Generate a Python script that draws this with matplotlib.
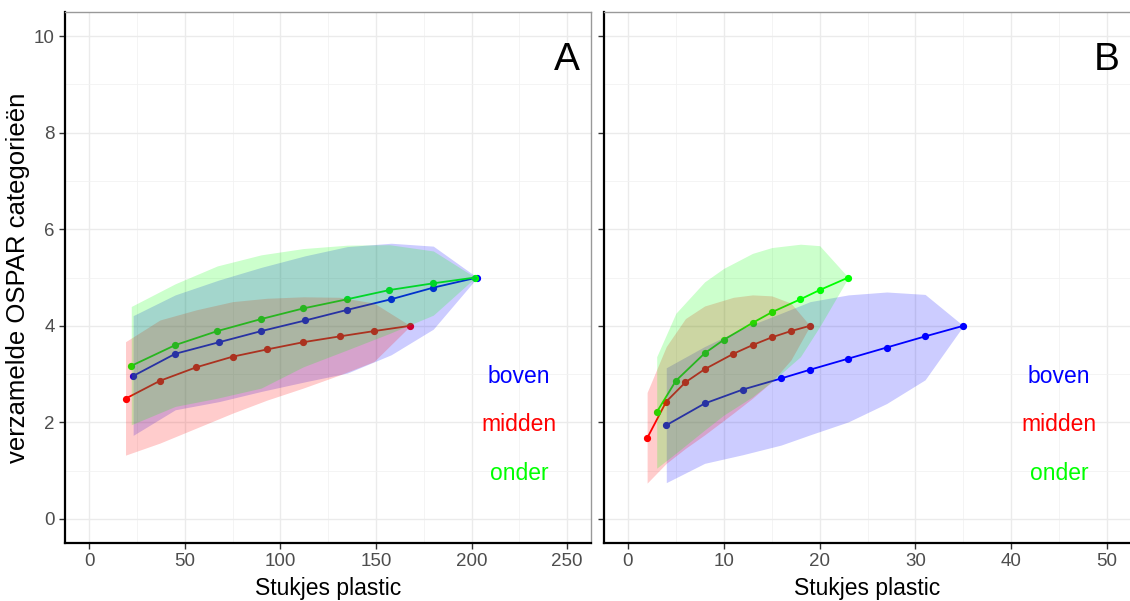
import numpy as np
import matplotlib.pyplot as plt
from matplotlib.ticker import MultipleLocator

plt.rcParams['font.family'] = ['Liberation Sans', 'DejaVu Sans']

# ---- panel A ----
a_boven_x = [23, 45, 68, 90, 113, 135, 158, 180, 203]
a_boven_y = [2.96, 3.42, 3.66, 3.89, 4.11, 4.33, 4.55, 4.79, 5.0]
a_boven_lo = [1.73, 2.26, 2.43, 2.64, 2.84, 3.02, 3.40, 3.93, 5.0]
a_boven_hi = [4.21, 4.64, 4.95, 5.21, 5.45, 5.64, 5.71, 5.65, 5.0]

a_midden_x = [19, 37, 56, 75, 93, 112, 131, 149, 168]
a_midden_y = [2.49, 2.86, 3.14, 3.36, 3.51, 3.66, 3.78, 3.89, 4.0]
a_midden_lo = [1.32, 1.57, 1.88, 2.19, 2.46, 2.71, 2.98, 3.26, 4.0]
a_midden_hi = [3.67, 4.12, 4.33, 4.50, 4.57, 4.60, 4.59, 4.47, 4.0]

a_onder_x = [22, 45, 67, 90, 112, 135, 157, 180, 202]
a_onder_y = [3.17, 3.60, 3.89, 4.14, 4.36, 4.55, 4.74, 4.88, 5.0]
a_onder_lo = [1.95, 2.33, 2.50, 2.71, 3.15, 3.50, 3.84, 4.22, 5.0]
a_onder_hi = [4.40, 4.87, 5.24, 5.47, 5.60, 5.67, 5.68, 5.55, 5.0]

# ---- panel B ----
b_boven_x = [4, 8, 12, 16, 19, 23, 27, 31, 35]
b_boven_y = [1.94, 2.39, 2.68, 2.91, 3.09, 3.32, 3.55, 3.78, 4.0]
b_boven_lo = [0.75, 1.15, 1.33, 1.53, 1.74, 2.01, 2.39, 2.88, 4.0]
b_boven_hi = [3.13, 3.57, 3.95, 4.26, 4.50, 4.64, 4.70, 4.65, 4.0]

b_midden_x = [2, 4, 6, 8, 11, 13, 15, 17, 19]
b_midden_y = [1.67, 2.43, 2.83, 3.10, 3.42, 3.60, 3.76, 3.89, 4.0]
b_midden_lo = [0.74, 1.15, 1.46, 1.74, 2.19, 2.50, 2.84, 3.29, 4.0]
b_midden_hi = [2.62, 3.57, 4.15, 4.41, 4.59, 4.64, 4.62, 4.47, 4.0]

b_onder_x = [3, 5, 8, 10, 13, 15, 18, 20, 23]
b_onder_y = [2.21, 2.86, 3.43, 3.71, 4.06, 4.28, 4.55, 4.74, 5.0]
b_onder_lo = [1.05, 1.36, 1.84, 2.15, 2.53, 2.84, 3.36, 3.98, 5.0]
b_onder_hi = [3.36, 4.26, 4.91, 5.19, 5.50, 5.62, 5.69, 5.66, 5.0]

groups = ['boven', 'midden', 'onder']
colors = {'boven': '#0000FF', 'midden': '#FF0000', 'onder': '#00FF00'}

panel_a = {
    'boven': (a_boven_x, a_boven_y, a_boven_lo, a_boven_hi),
    'midden': (a_midden_x, a_midden_y, a_midden_lo, a_midden_hi),
    'onder': (a_onder_x, a_onder_y, a_onder_lo, a_onder_hi),
}
panel_b = {
    'boven': (b_boven_x, b_boven_y, b_boven_lo, b_boven_hi),
    'midden': (b_midden_x, b_midden_y, b_midden_lo, b_midden_hi),
    'onder': (b_onder_x, b_onder_y, b_onder_lo, b_onder_hi),
}

fig = plt.figure(figsize=(11.3, 6.01), dpi=100)
axA = fig.add_axes([0.0578, 0.0965, 0.4652, 0.8835])
axB = fig.add_axes([0.5345, 0.0965, 0.4665, 0.8835])


def draw_panel(ax, data, xmax, xstep, letter, label_x):
    for g in groups:
        x, y, lo, hi = data[g]
        c = colors[g]
        ax.plot(x, y, '-o', color=c, lw=1.3, ms=4.2, zorder=2)
        ax.fill_between(x, lo, hi, color=c, alpha=0.2, lw=0, zorder=3)
    for g, yy in zip(groups, [2.95, 1.95, 0.95]):
        ax.text(label_x, yy, g, color=colors[g], fontsize=16.5,
                ha='center', va='center', zorder=4)
    ax.text(xmax, 9.5, letter, fontsize=28, ha='center', va='center')

    pad = xmax * 0.05
    ax.set_xlim(-pad, xmax + pad)
    ax.set_ylim(-0.5, 10.5)
    ax.xaxis.set_major_locator(MultipleLocator(xstep))
    ax.xaxis.set_minor_locator(MultipleLocator(xstep / 2))
    ax.yaxis.set_major_locator(MultipleLocator(2))
    ax.yaxis.set_minor_locator(MultipleLocator(1))
    ax.grid(True, which='major', color='#EBEBEB', lw=1.0, zorder=0)
    ax.grid(True, which='minor', color='#F2F2F2', lw=0.6, zorder=0)
    ax.set_axisbelow(True)
    ax.tick_params(which='minor', length=0)
    ax.tick_params(which='major', length=4, width=1, color='#333333',
                   labelsize=13.5, labelcolor='#4D4D4D')
    for s in ['left', 'bottom']:
        ax.spines[s].set_color('black')
        ax.spines[s].set_linewidth(1.6)
    for s in ['top', 'right']:
        ax.spines[s].set_color('#999999')
        ax.spines[s].set_linewidth(1.0)
    ax.set_xlabel('Stukjes plastic', fontsize=16.5, labelpad=5)


draw_panel(axA, panel_a, 250, 50, 'A', 225)
draw_panel(axB, panel_b, 50, 10, 'B', 45)
axA.set_ylabel('verzamelde OSPAR categorieën', fontsize=18.5, labelpad=3)
axB.tick_params(labelleft=False)

fig.savefig('out.png', dpi=100)
